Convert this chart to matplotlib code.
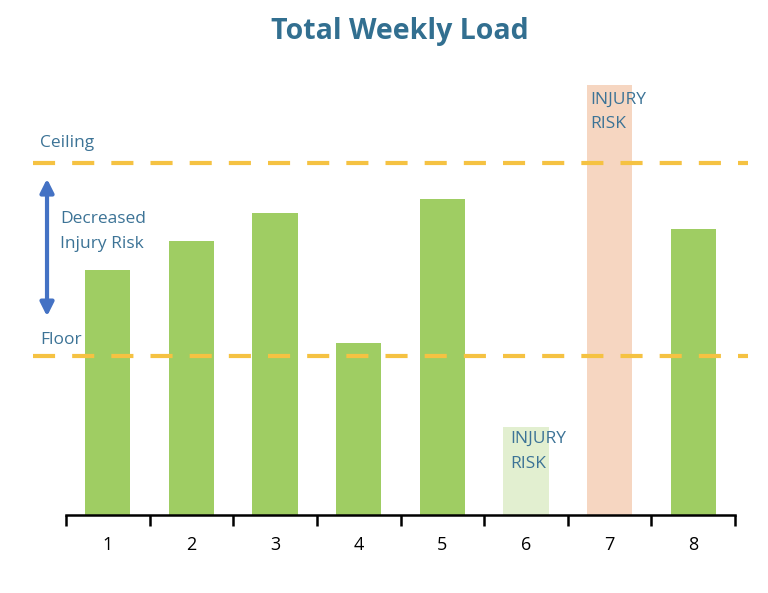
import matplotlib.pyplot as plt

plt.rcParams['font.family'] = ['Open Sans', 'DejaVu Sans']

weeks = ['1', '2', '3', '4', '5', '6', '7', '8']
load = [5.70, 6.37, 7.02, 4.00, 7.35, 2.05, 10.0, 6.65]
ceiling = 8.19
floor = 3.70

green = '#9fcd63'
light_green = '#e2efd0'
peach = '#f6d6c1'
colors = [green, green, green, green, green, light_green, peach, green]
text_col = '#3c7396'
dash_col = '#f5c242'

fig = plt.figure(figsize=(7.68, 5.93), dpi=100)
ax = fig.add_axes([66 / 768, 78 / 593, 669 / 768, 430 / 593])

x = list(range(len(weeks)))
ax.bar(x, load, width=0.54, color=colors, zorder=2)

ax.set_xlim(-0.5, 7.5)
ax.set_ylim(0, 10)

# threshold lines run past the plot edges
for val in (ceiling, floor):
    ax.plot([-0.895, 7.66], [val, val], color=dash_col, lw=3,
            dashes=(5.3, 4.1), solid_capstyle='butt', dash_capstyle='butt',
            clip_on=False, zorder=3)

ax.annotate('', xy=(-0.727, 7.82), xytext=(-0.727, 4.62),
            arrowprops=dict(arrowstyle='<|-|>', color='#4472c4', lw=3,
                            mutation_scale=20, shrinkA=0, shrinkB=0),
            annotation_clip=False)

ax.text(-0.811, 8.65, 'Ceiling', color=text_col, fontsize=12.5,
        va='center', ha='left', clip_on=False)
ax.text(-0.811, 4.07, 'Floor', color=text_col, fontsize=12.5,
        va='center', ha='left', clip_on=False)
ax.text(-0.572, 6.6, 'Decreased\nInjury Risk', color=text_col, fontsize=12.5,
        va='center', ha='left', linespacing=1.75, clip_on=False)
ax.text(5.77, 9.85, 'INJURY\nRISK', color=text_col, fontsize=12.5,
        va='top', ha='left', linespacing=1.75, zorder=4)
ax.text(4.81, 1.95, 'INJURY\nRISK', color=text_col, fontsize=12.5,
        va='top', ha='left', linespacing=1.75, zorder=4)

for s in ['top', 'right', 'left']:
    ax.spines[s].set_visible(False)
ax.spines['bottom'].set_linewidth(1.8)
ax.spines['bottom'].set_zorder(5)
ax.set_yticks([])
ax.set_xticks([i - 0.5 for i in range(len(weeks) + 1)])
ax.set_xticklabels([])
ax.set_xticks(x, minor=True)
ax.set_xticklabels(weeks, minor=True, fontsize=13)
ax.tick_params(axis='x', which='major', direction='out', length=8, width=1.8)
ax.tick_params(axis='x', which='minor', length=0, pad=15)

fig.text(400 / 768, 1 - 32 / 593, 'Total Weekly Load', color='#326f90',
         fontsize=20.5, fontweight='bold', ha='center', va='center')

fig.savefig('out.png', dpi=100)
